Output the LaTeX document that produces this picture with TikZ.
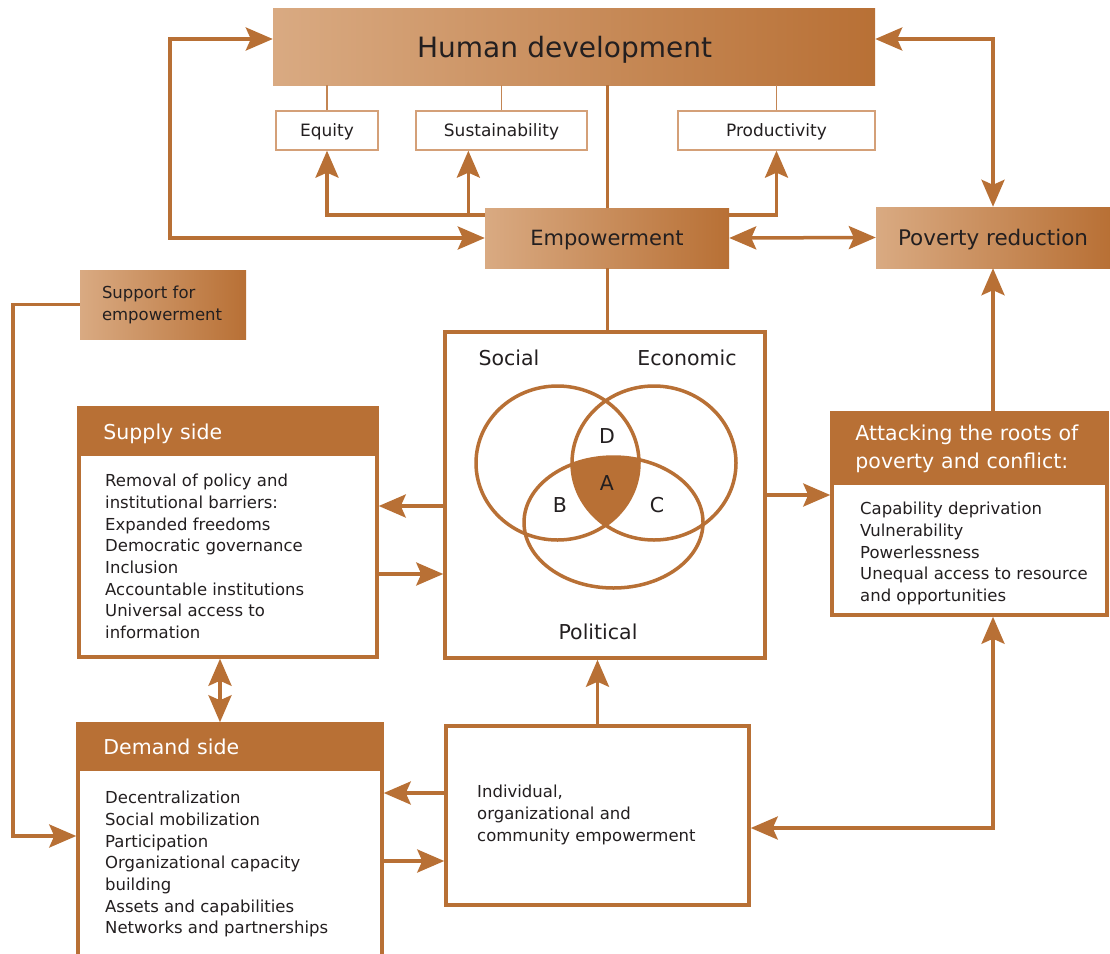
\documentclass[tikz,border=0pt]{standalone}
\usepackage{fontspec}
\setmainfont{DejaVu Sans}
\usetikzlibrary{arrows.meta}
\definecolor{rust}{RGB}{184,112,53}
\definecolor{tan}{RGB}{217,170,130}
\definecolor{thinline}{RGB}{212,160,120}
\definecolor{ink}{RGB}{35,31,32}

\begin{document}
\begin{tikzpicture}[x=1pt,y=-1pt,
  >={Stealth[length=27pt,width=23pt,inset=5pt]},
  every node/.style={text=ink},
  gradbox/.style={left color=tan,right color=rust,inner sep=0pt},
  valbox/.style={draw=thinline,line width=1.3pt,fill=white,inner sep=0pt,text depth=0pt,minimum height=39pt,font=\fontsize{17}{20}\selectfont},
  framebox/.style={draw=rust,line width=3.5pt,fill=white,inner sep=0pt},
  headbox/.style={fill=rust,text=white,inner ysep=0pt,align=left,anchor=north west,font=\fontsize{20.5}{28}\selectfont},
  bodytext/.style={align=left,inner sep=0pt,anchor=north west,font=\fontsize{16.5}{21.7}\selectfont},
  link/.style={draw=rust,line width=3.5pt},
  thinlink/.style={draw=rust!85,line width=1.3pt},
  stem/.style={draw=rust,line width=3pt},
  venntext/.style={font=\fontsize{20.5}{24}\selectfont}
]
\useasboundingbox (0,0) rectangle (1110,953);

\node[gradbox,text depth=0pt,minimum width=602pt,minimum height=77pt,text width=314pt,inner xsep=144pt,align=left,font=\fontsize{28}{34}\selectfont] (hd) at (574,46.5) {Human development};
\node[gradbox,text depth=0pt,minimum width=244pt,minimum height=60pt,font=\fontsize{21}{25}\selectfont] (emp) at (607,238) {Empowerment};
\node[gradbox,text depth=0pt,minimum width=234pt,minimum height=61pt,font=\fontsize{21.5}{25}\selectfont] (pov) at (993,237.5) {Poverty reduction};
\node[gradbox,minimum width=166pt,minimum height=69pt,text width=122pt,inner xsep=22pt,align=left,font=\fontsize{16.5}{22}\selectfont] (support) at (163,304.5) {Support for\\empowerment};

\node[valbox,minimum width=102pt] (equity) at (327,130.5) {Equity};
\node[valbox,minimum width=171pt] (sustain) at (501.5,130.5) {Sustainability};
\node[valbox,minimum width=197pt] (prod) at (776.5,130.5) {Productivity};

\draw[thinlink] (equity.north) -- (equity.north |- hd.south);
\draw[thinlink] (sustain.north) -- (sustain.north |- hd.south);
\draw[thinlink] (prod.north) -- (prod.north |- hd.south);

\node[framebox,minimum width=298pt,minimum height=249pt] (supply) at (228,532.5) {};
\node[headbox,text depth=0pt,minimum height=50pt,text width=246pt,inner xsep=26pt] (supplyhead) at (supply.north west) {Supply side};
\node[bodytext] (supplybody) at (105,474) {Removal of policy and\\institutional barriers:\\Expanded freedoms\\Democratic governance\\Inclusion\\Accountable institutions\\Universal access to\\information};

\node[framebox,minimum width=304pt,minimum height=246pt] (demand) at (230,847) {};
\node[headbox,text depth=0pt,minimum height=49pt,text width=250pt,inner xsep=27pt] (demandhead) at (demand.north west) {Demand side};
\node[bodytext] (demandbody) at (105,791) {Decentralization\\Social mobilization\\Participation\\Organizational capacity\\building\\Assets and capabilities\\Networks and partnerships};

\node[framebox,minimum width=275pt,minimum height=202pt] (attack) at (969.5,514) {};
\node[headbox,minimum height=74pt,text width=225pt,inner xsep=25pt] (attackhead) at (attack.north west) {Attacking the roots of\\poverty and conflict:};
\node[bodytext] (attackbody) at (860,502) {Capability deprivation\\Vulnerability\\Powerlessness\\Unequal access to resource\\and opportunities};

\node[framebox,minimum width=303pt,minimum height=179pt] (indiv) at (597.5,815.5) {};
\node[bodytext] (indivbody) at (477,785) {Individual,\\organizational and\\community empowerment};

\node[framebox,minimum width=320pt,minimum height=326pt] (venn) at (605,495) {};
\begin{scope}
\clip (557.5,463) ellipse [x radius=81.5, y radius=77];
\clip (654,463) ellipse [x radius=82, y radius=77];
\fill[rust] (613.5,522.5) ellipse [x radius=89.5, y radius=65.5];
\end{scope}
\draw[rust,line width=3.5pt] (557.5,463) ellipse [x radius=81.5, y radius=77];
\draw[rust,line width=3.5pt] (654,463) ellipse [x radius=82, y radius=77];
\draw[rust,line width=3.5pt] (613.5,522.5) ellipse [x radius=89.5, y radius=65.5];
\node[venntext] (social) at (509,358) {Social};
\node[venntext] (economic) at (687,358) {Economic};
\node[venntext] (political) at (598,632) {Political};
\node[venntext] (regd) at (607,436) {D};
\node[venntext] (rega) at (607,483) {A};
\node[venntext] (regb) at (560,505) {B};
\node[venntext] (regc) at (657,505) {C};

\draw[stem] (hd.south -| emp.north) -- (emp.north);
\draw[stem] (emp.south) -- (emp.south |- venn.north);

\draw[link,<->] (emp.west) -- ++(-315,0) |- ([yshift=7.5pt]hd.west);
\draw[link,->] ([yshift=23pt]emp.west) -| (equity.south);
\draw[link,->] ([yshift=23pt]emp.west) -| ([xshift=53pt]sustain.south west);
\draw[link,->] ([yshift=23pt]emp.east) -| (prod.south);
\draw[link,<->] (emp.east) -- (pov.west);
\draw[link,<->] ([yshift=7.5pt]hd.east) -| (pov.north);
\draw[link,->] (pov.south |- attack.north) -- (pov.south);
\draw[link,->] (venn.east) -- (venn.east -| attack.west);
\draw[link,<->] (pov.south |- attack.south) |- ([yshift=-12.5pt]indiv.east);

\coordinate (supout) at ([yshift=26.5pt]supply.east);
\coordinate (supin) at ([yshift=-41.5pt]supply.east);
\draw[link,<-] (supout) -- (supout -| venn.west);
\draw[link,->] (supin) -- (supin -| venn.west);
\coordinate (sd) at ([xshift=-8pt]supply.south);
\draw[link,<->] (sd) -- (sd |- demand.north);

\coordinate (indout) at ([yshift=22.5pt]indiv.west);
\coordinate (indin) at ([yshift=-45.5pt]indiv.west);
\draw[link,->] (indout) -- (indout -| demand.east);
\draw[link,<-] (indin) -- (indin -| demand.east);
\draw[link,->] (indiv.north) -- (indiv.north |- venn.south);

\draw[link,->] (support.west) -- ++(-67,0) |- ([yshift=11pt]demand.west);
\end{tikzpicture}
\end{document}
